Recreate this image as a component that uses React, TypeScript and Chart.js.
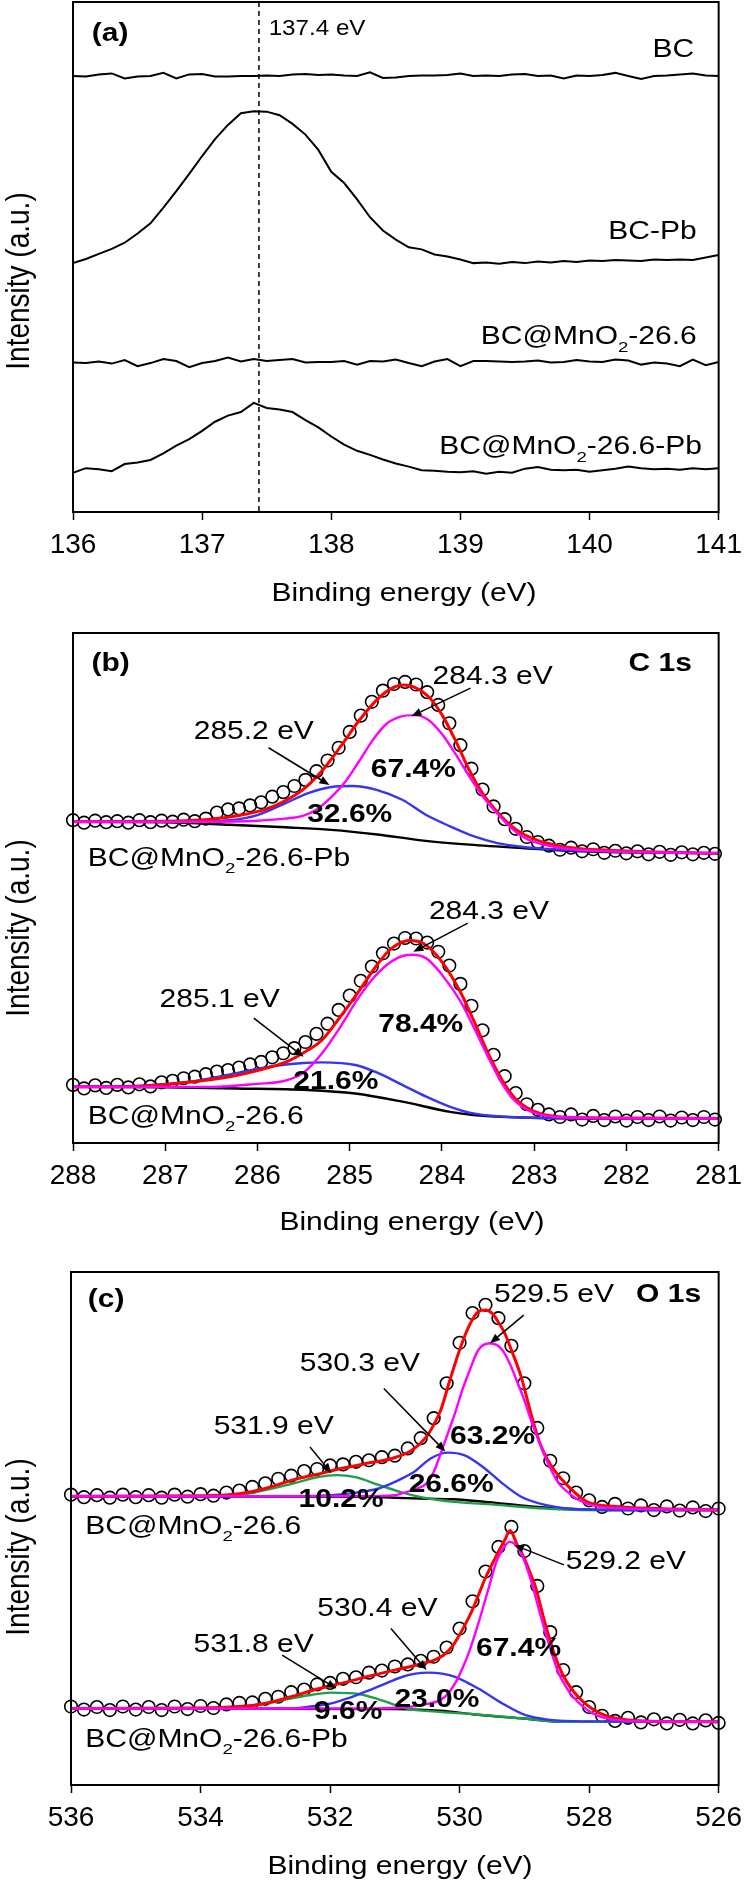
import React, { useEffect, useRef } from "react";
import { Chart, registerables } from "chart.js";
Chart.register(...registerables);

const FONT = '"Liberation Sans", Arial, Helvetica, sans-serif';

// ---------------- Panel (a): Pb 4f region ----------------
const energyA = [136.0, 136.1, 136.2, 136.3, 136.4, 136.5, 136.6, 136.7, 136.8, 136.9, 137.0, 137.1, 137.2, 137.3, 137.4, 137.5, 137.6, 137.7, 137.8, 137.9, 138.0, 138.1, 138.2, 138.3, 138.4, 138.5, 138.6, 138.7, 138.8, 138.9, 139.0, 139.1, 139.2, 139.3, 139.4, 139.5, 139.6, 139.7, 139.8, 139.9, 140.0, 140.1, 140.2, 140.3, 140.4, 140.5, 140.6, 140.7, 140.8, 140.9, 141.0];
const bcA = [85.5, 85.4, 85.8, 86.0, 85.0, 85.4, 85.5, 86.1, 85.0, 85.8, 85.9, 85.4, 85.4, 85.5, 85.5, 85.6, 85.5, 85.8, 85.9, 85.7, 85.8, 85.6, 85.5, 86.2, 85.1, 85.2, 85.5, 85.6, 85.6, 85.7, 86.0, 85.5, 85.6, 85.5, 85.8, 85.9, 85.5, 85.6, 85.0, 85.6, 85.5, 85.7, 86.1, 85.5, 84.9, 85.5, 85.6, 85.8, 86.0, 85.6, 85.5];
const bcPbA = [48.8, 49.6, 50.6, 51.6, 52.8, 54.6, 56.6, 59.7, 62.9, 66.3, 69.8, 73.1, 75.9, 78.2, 78.6, 78.5, 77.8, 76.1, 74.0, 71.0, 66.7, 64.5, 61.3, 57.8, 55.2, 53.4, 51.9, 51.5, 50.5, 50.1, 49.5, 48.8, 48.9, 48.7, 49.0, 48.8, 49.1, 48.9, 49.2, 49.0, 49.3, 49.2, 49.4, 49.3, 49.2, 49.5, 49.4, 49.5, 49.4, 49.9, 50.4];
const mnA = [29.3, 29.2, 29.5, 29.1, 29.8, 28.6, 29.2, 30.0, 29.6, 28.4, 29.2, 29.6, 30.3, 29.5, 30.0, 29.6, 29.8, 30.0, 29.3, 29.4, 29.4, 29.6, 28.9, 29.6, 29.5, 29.9, 29.2, 28.6, 29.5, 30.0, 28.6, 29.6, 29.6, 29.5, 29.4, 29.5, 29.7, 29.3, 29.4, 29.8, 29.5, 29.4, 29.9, 29.7, 28.9, 29.3, 29.1, 28.6, 29.9, 28.8, 29.4];
const mnPbA = [7.7, 8.6, 8.4, 8.0, 9.4, 9.7, 10.2, 11.5, 13.0, 14.3, 15.9, 17.7, 18.9, 19.6, 21.4, 20.4, 20.1, 19.6, 18.0, 16.6, 14.8, 13.2, 12.0, 11.2, 10.3, 9.5, 8.9, 8.2, 8.1, 7.9, 7.8, 8.0, 7.5, 7.9, 7.7, 8.5, 8.8, 8.3, 8.2, 8.3, 7.9, 8.2, 8.5, 8.9, 8.6, 8.4, 8.5, 8.3, 8.6, 8.4, 8.6];
const peakLineA = 137.44;

// ---------------- Panel (b): C 1s ----------------
const energyB = [288.0, 287.88, 287.76, 287.64, 287.52, 287.4, 287.28, 287.16, 287.04, 286.92, 286.8, 286.68, 286.56, 286.44, 286.32, 286.2, 286.08, 285.96, 285.84, 285.72, 285.6, 285.48, 285.36, 285.24, 285.12, 285.0, 284.88, 284.76, 284.64, 284.52, 284.4, 284.28, 284.16, 284.04, 283.92, 283.8, 283.68, 283.56, 283.44, 283.32, 283.2, 283.08, 282.96, 282.84, 282.72, 282.6, 282.48, 282.36, 282.24, 282.12, 282.0, 281.88, 281.76, 281.64, 281.52, 281.4, 281.28, 281.16, 281.04];
const rawB_Pb = [63.3, 62.8, 63.2, 62.9, 63.1, 62.8, 63.3, 62.9, 63.2, 63.0, 63.4, 63.1, 63.6, 64.8, 65.4, 65.6, 66.2, 66.8, 67.9, 68.8, 70.0, 71.2, 72.9, 75.0, 77.5, 80.6, 83.8, 86.5, 88.7, 90.0, 90.4, 89.9, 88.4, 85.9, 82.3, 78.0, 73.4, 69.3, 66.0, 63.5, 61.6, 60.0, 59.0, 58.3, 57.5, 57.9, 57.2, 57.6, 56.9, 57.3, 56.8, 57.2, 56.6, 57.1, 56.5, 57.0, 56.6, 56.9, 56.7];
const rawB_Mn = [11.4, 10.7, 11.3, 10.8, 11.4, 10.9, 11.5, 11.1, 11.9, 12.2, 12.7, 13.0, 13.5, 14.0, 14.3, 14.8, 15.4, 15.9, 16.8, 17.6, 18.6, 19.8, 21.4, 23.4, 26.1, 28.9, 31.8, 34.6, 37.2, 39.1, 40.2, 40.1, 39.3, 37.5, 34.8, 31.2, 26.9, 22.1, 17.3, 13.1, 9.8, 7.6, 6.5, 5.6, 5.1, 5.6, 4.6, 5.3, 4.5, 5.2, 4.4, 5.1, 4.5, 5.2, 4.4, 5.0, 4.5, 5.1, 4.6];
// fitted curves [binding energy, intensity]
const envB_Pb = [[288.0, 63.0], [287.0, 63.1], [286.5, 63.5], [286.2, 64.2], [285.9, 65.5], [285.7, 67.1], [285.5, 69.4], [285.3, 73.0], [285.1, 77.7], [284.9, 82.8], [284.7, 87.0], [284.55, 89.1], [284.42, 89.8], [284.3, 89.4], [284.15, 87.6], [284.0, 84.0], [283.85, 78.8], [283.7, 73.0], [283.55, 68.3], [283.4, 64.9], [283.25, 62.2], [283.1, 60.4], [282.9, 59.0], [282.6, 57.9], [282.2, 57.4], [281.6, 57.0], [281.0, 56.8]];
const ccB_Pb = [[288.0, 63.0], [286.5, 63.0], [286.0, 63.2], [285.7, 63.6], [285.5, 64.2], [285.35, 65.5], [285.2, 67.8], [285.05, 70.8], [284.9, 74.8], [284.75, 79.0], [284.6, 82.2], [284.45, 83.6], [284.3, 83.9], [284.15, 83.0], [284.0, 80.2], [283.85, 76.2], [283.7, 71.8], [283.55, 67.8], [283.4, 64.6], [283.25, 61.8], [283.1, 59.8], [282.9, 58.5], [282.6, 57.6], [282.0, 57.1], [281.0, 56.8]];
const coB_Pb = [[288.0, 63.0], [286.8, 63.0], [286.3, 63.3], [286.0, 64.3], [285.7, 66.6], [285.45, 68.6], [285.2, 69.8], [284.97, 70.0], [284.7, 69.2], [284.43, 67.3], [284.17, 64.3], [283.9, 62.0], [283.65, 60.1], [283.4, 58.8], [283.14, 58.1], [282.8, 57.6], [282.0, 57.1], [281.0, 56.8]];
const bgB_Pb = [[288.0, 63.0], [287.0, 62.9], [286.3, 62.4], [285.7, 61.9], [285.2, 61.4], [284.7, 60.5], [284.2, 59.3], [283.7, 58.5], [283.1, 57.8], [282.5, 57.2], [281.0, 56.8]];
const envB_Mn = [[288.0, 11.0], [287.2, 11.2], [286.7, 12.0], [286.3, 13.0], [286.0, 14.2], [285.7, 15.8], [285.5, 17.7], [285.3, 20.2], [285.1, 24.8], [284.9, 29.8], [284.7, 35.0], [284.55, 38.1], [284.35, 39.7], [284.2, 39.1], [284.0, 35.5], [283.8, 29.6], [283.65, 23.8], [283.5, 17.6], [283.35, 12.4], [283.2, 8.6], [283.0, 6.2], [282.7, 5.1], [282.0, 4.9], [281.0, 4.8]];
const ccB_Mn = [[288.0, 11.0], [286.5, 11.0], [286.0, 11.6], [285.7, 12.2], [285.5, 13.8], [285.3, 17.6], [285.1, 22.8], [284.9, 28.6], [284.7, 33.2], [284.5, 36.1], [284.33, 36.9], [284.17, 36.2], [284.0, 33.0], [283.8, 27.8], [283.65, 22.5], [283.5, 16.9], [283.35, 11.7], [283.2, 8.1], [283.0, 5.9], [282.6, 5.0], [281.0, 4.8]];
const coB_Mn = [[288.0, 11.0], [287.3, 11.2], [286.74, 12.0], [286.23, 13.7], [285.82, 15.1], [285.5, 15.7], [285.3, 15.8], [284.94, 15.3], [284.69, 13.7], [284.43, 11.4], [284.17, 9.1], [283.91, 7.1], [283.66, 5.8], [283.14, 5.0], [282.0, 4.8], [281.0, 4.8]];
const bgB_Mn = [[288.0, 11.0], [287.0, 10.9], [286.23, 10.7], [285.46, 10.4], [284.94, 9.7], [284.43, 8.1], [283.91, 6.1], [283.66, 5.5], [283.14, 5.0], [282.0, 4.8], [281.0, 4.8]];

// ---------------- Panel (c): O 1s ----------------
const energyC = [536.0, 535.8, 535.6, 535.4, 535.2, 535.0, 534.8, 534.6, 534.4, 534.2, 534.0, 533.8, 533.6, 533.4, 533.2, 533.0, 532.8, 532.6, 532.4, 532.2, 532.0, 531.8, 531.6, 531.4, 531.2, 531.0, 530.8, 530.6, 530.4, 530.2, 530.0, 529.8, 529.6, 529.4, 529.2, 529.0, 528.8, 528.6, 528.4, 528.2, 528.0, 527.8, 527.6, 527.4, 527.2, 527.0, 526.8, 526.6, 526.4, 526.2, 526.0];
const rawC_Mn = [56.6, 56.1, 56.5, 56.0, 56.6, 56.1, 56.5, 56.0, 56.6, 56.2, 56.7, 56.4, 57.0, 57.4, 58.1, 58.8, 59.7, 60.3, 61.2, 61.6, 62.3, 62.5, 63.0, 63.3, 63.9, 64.2, 65.6, 67.6, 71.5, 78.3, 86.2, 92.0, 93.6, 91.0, 85.6, 78.3, 69.6, 63.2, 59.8, 57.0, 55.5, 54.2, 54.8, 53.9, 54.5, 53.6, 54.3, 53.5, 54.1, 53.4, 53.9];
const rawC_Pb = [15.3, 14.7, 15.2, 14.6, 15.3, 14.7, 15.2, 14.6, 15.3, 14.8, 15.4, 15.0, 15.7, 16.0, 16.1, 16.8, 17.2, 18.1, 18.6, 19.6, 19.9, 20.7, 21.0, 21.9, 22.3, 23.1, 23.5, 24.2, 25.0, 26.8, 30.5, 35.8, 41.6, 46.4, 50.3, 45.6, 38.8, 29.8, 22.4, 18.1, 15.2, 13.5, 12.5, 13.1, 12.2, 12.8, 12.0, 12.7, 12.0, 12.6, 12.1];
const envC_Mn = [[536.0, 56.3], [534.0, 56.4], [533.4, 56.8], [533.0, 57.8], [532.56, 59.5], [532.12, 60.8], [531.83, 61.7], [531.39, 62.8], [531.03, 63.7], [530.73, 65.3], [530.51, 67.9], [530.4, 70.2], [530.29, 73.1], [530.15, 78.9], [530.0, 84.8], [529.86, 89.3], [529.71, 92.3], [529.6, 92.6], [529.5, 92.0], [529.42, 90.6], [529.3, 88.0], [529.2, 84.8], [529.05, 79.6], [528.9, 72.5], [528.76, 66.6], [528.65, 63.6], [528.54, 61.4], [528.32, 58.2], [528.03, 55.2], [527.59, 54.3], [527.0, 53.9], [526.0, 53.6]];
const latC_Mn = [[536.0, 56.3], [531.5, 56.3], [531.0, 56.5], [530.88, 56.9], [530.7, 57.6], [530.51, 58.8], [530.4, 61.0], [530.29, 64.7], [530.18, 68.6], [530.07, 72.5], [529.96, 76.9], [529.86, 80.3], [529.71, 84.8], [529.53, 86.1], [529.34, 84.8], [529.22, 82.0], [529.12, 78.9], [529.0, 75.0], [528.9, 71.2], [528.78, 67.2], [528.68, 64.0], [528.57, 61.0], [528.47, 58.8], [528.3, 56.8], [528.17, 55.6], [527.88, 54.3], [527.4, 53.9], [526.0, 53.6]];
const ohC_Mn = [[536.0, 56.3], [532.5, 56.3], [531.98, 56.5], [531.6, 57.0], [531.25, 57.8], [531.0, 59.1], [530.73, 60.8], [530.44, 63.7], [530.18, 64.8], [529.93, 64.3], [529.64, 62.0], [529.34, 58.8], [529.05, 56.2], [528.68, 54.6], [528.32, 53.9], [527.5, 53.6], [526.0, 53.6]];
const h2oC_Mn = [[536.0, 56.3], [534.0, 56.3], [533.44, 56.5], [533.0, 57.5], [532.56, 58.8], [532.2, 60.0], [531.9, 60.4], [531.61, 60.0], [531.25, 58.5], [530.88, 57.0], [530.51, 55.9], [530.07, 55.2], [529.42, 54.6], [528.68, 53.9], [527.95, 53.6], [526.0, 53.6]];
const bgC_Mn = [[536.0, 56.3], [531.5, 56.2], [531.0, 56.0], [530.5, 55.8], [530.1, 55.7], [529.6, 55.2], [528.9, 54.3], [528.3, 53.8], [527.5, 53.6], [526.0, 53.6]];
const envC_Pb = [[536.0, 14.9], [534.0, 15.0], [533.4, 15.3], [533.0, 15.9], [532.6, 17.2], [532.2, 18.7], [531.8, 19.9], [531.4, 21.2], [531.0, 22.4], [530.6, 23.6], [530.4, 24.3], [530.25, 25.3], [530.1, 27.2], [530.0, 29.3], [529.9, 31.6], [529.8, 34.2], [529.7, 37.3], [529.6, 40.4], [529.5, 43.0], [529.4, 45.5], [529.3, 47.8], [529.22, 49.6], [529.12, 47.1], [529.0, 44.2], [528.9, 41.0], [528.83, 38.7], [528.68, 31.5], [528.54, 25.7], [528.39, 21.1], [528.17, 17.2], [527.88, 14.3], [527.59, 13.0], [527.0, 12.4], [526.0, 12.3]];
const latC_Pb = [[536.0, 14.9], [531.5, 14.9], [530.73, 15.3], [530.5, 15.8], [530.29, 16.6], [530.18, 17.8], [530.07, 19.8], [529.96, 22.6], [529.86, 25.7], [529.71, 31.5], [529.56, 38.0], [529.42, 43.9], [529.3, 46.6], [529.23, 47.4], [529.15, 47.0], [529.05, 45.2], [528.9, 40.0], [528.76, 33.5], [528.61, 27.0], [528.47, 21.8], [528.35, 19.0], [528.25, 17.2], [527.95, 14.0], [527.59, 12.7], [527.0, 12.4], [526.0, 12.3]];
const ohC_Pb = [[536.0, 14.9], [532.6, 14.9], [532.3, 15.3], [531.98, 15.9], [531.7, 17.0], [531.39, 18.5], [531.1, 20.0], [530.88, 21.1], [530.68, 21.7], [530.48, 21.9], [530.27, 21.7], [530.07, 21.1], [529.71, 18.8], [529.34, 15.9], [528.98, 13.6], [528.61, 12.7], [528.0, 12.4], [526.0, 12.3]];
const h2oC_Pb = [[536.0, 14.9], [534.0, 14.9], [533.44, 15.1], [533.0, 15.9], [532.42, 17.3], [531.98, 18.0], [531.54, 17.7], [531.25, 16.7], [530.81, 14.9], [530.37, 14.3], [529.78, 13.8], [529.05, 13.0], [528.32, 12.3], [526.0, 12.3]];
const bgC_Pb = [[536.0, 14.9], [531.0, 14.8], [530.3, 14.5], [529.8, 13.8], [529.05, 13.0], [528.32, 12.3], [526.0, 12.3]];

// ---------------- drawing helpers ----------------
type Seg = { t: string; sub?: boolean };
type Label = { text: string; x: number; y: number; align: "left" | "right" | "center"; bold?: boolean; size?: number; sx?: number };
type Arrow = [number, number, number, number];

function parseSegs(s: string): Seg[] {
  const out: Seg[] = [];
  let buf = "";
  for (let i = 0; i < s.length; i++) {
    if (s[i] === "_" && i + 1 < s.length) {
      if (buf) out.push({ t: buf });
      buf = "";
      out.push({ t: s[i + 1], sub: true });
      i++;
    } else buf += s[i];
  }
  if (buf) out.push({ t: buf });
  return out;
}
const fontStr = (size: number, bold?: boolean) => `${bold ? "bold " : ""}${size}px ${FONT}`;

function drawRich(ctx: CanvasRenderingContext2D, text: string, x: number, y: number, align: string, size: number, bold: boolean, sx: number) {
  const segs = parseSegs(text);
  const sz = (s: Seg) => (s.sub ? size * 0.62 : size);
  const widths = segs.map((s) => {
    ctx.font = fontStr(sz(s), bold);
    return ctx.measureText(s.t).width;
  });
  const total = widths.reduce((a, b) => a + b, 0);
  ctx.save();
  ctx.translate(x, y);
  ctx.scale(sx, 1);
  let cx = align === "left" ? 0 : align === "right" ? -total : -total / 2;
  ctx.textAlign = "left";
  ctx.textBaseline = "alphabetic";
  ctx.fillStyle = "#000";
  segs.forEach((s, i) => {
    ctx.font = fontStr(sz(s), bold);
    ctx.fillText(s.t, cx, size * 0.36 + (s.sub ? size * 0.3 : 0));
    cx += widths[i];
  });
  ctx.restore();
}

function drawArrow(ctx: CanvasRenderingContext2D, x1: number, y1: number, x2: number, y2: number) {
  const ang = Math.atan2(y2 - y1, x2 - x1);
  const L = 10, W = 4;
  const bx = x2 - L * Math.cos(ang), by = y2 - L * Math.sin(ang);
  ctx.strokeStyle = "#000";
  ctx.lineWidth = 1.5;
  ctx.beginPath();
  ctx.moveTo(x1, y1);
  ctx.lineTo(bx, by);
  ctx.stroke();
  ctx.beginPath();
  ctx.moveTo(x2, y2);
  ctx.lineTo(bx - W * Math.sin(ang), by + W * Math.cos(ang));
  ctx.lineTo(bx + W * Math.sin(ang), by - W * Math.cos(ang));
  ctx.closePath();
  ctx.fillStyle = "#000";
  ctx.fill();
}

type Decor = { labels: Label[]; arrows: Arrow[]; vline?: number; xTitle: [number, number]; yTitle: [number, number] };

function makeDecor(d: Decor) {
  return {
    id: "decor",
    afterDraw(chart: any) {
      const { ctx, chartArea: a, scales } = chart;
      const X = (v: number) => scales.x.getPixelForValue(v);
      const Y = (v: number) => scales.y.getPixelForValue(v);
      ctx.save();
      if (d.vline !== undefined) {
        ctx.strokeStyle = "#000";
        ctx.lineWidth = 1.5;
        ctx.setLineDash([5, 4]);
        ctx.beginPath();
        ctx.moveTo(X(d.vline), a.top);
        ctx.lineTo(X(d.vline), a.bottom);
        ctx.stroke();
        ctx.setLineDash([]);
      }
      d.arrows.forEach(([e1, i1, e2, i2]) => drawArrow(ctx, X(e1), Y(i1), X(e2), Y(i2)));
      d.labels.forEach((l) => drawRich(ctx, l.text, X(l.x), Y(l.y), l.align, l.size ?? 25, !!l.bold, l.sx ?? 1.2));
      ctx.strokeStyle = "#000";
      ctx.lineWidth = 2;
      ctx.strokeRect(a.left, a.top, a.right - a.left, a.bottom - a.top);
      drawRich(ctx, "Binding energy (eV)", d.xTitle[0], d.xTitle[1], "center", 25, false, 1.2);
      ctx.save();
      ctx.translate(d.yTitle[0], d.yTitle[1]);
      ctx.scale(1.2, 1);
      ctx.rotate(-Math.PI / 2);
      ctx.font = fontStr(28, false);
      ctx.textAlign = "center";
      ctx.textBaseline = "alphabetic";
      ctx.fillStyle = "#000";
      ctx.fillText("Intensity (a.u.)", 0, 28 * 0.36);
      ctx.restore();
      ctx.restore();
    },
  };
}

const pairs = (pts: number[][]) => pts.map(([x, y]) => ({ x, y }));
const zip = (xs: number[], ys: number[]) => xs.map((x, i) => ({ x, y: ys[i] }));
const fit = (pts: number[][], color: string, width = 2.4) => ({
  data: pairs(pts),
  borderColor: color,
  borderWidth: width,
  pointRadius: 0,
  fill: false,
  cubicInterpolationMode: "monotone",
});
const raw = (xs: number[], ys: number[]) => ({
  data: zip(xs, ys),
  showLine: false,
  pointRadius: 6.3,
  pointBorderWidth: 1.6,
  pointBorderColor: "#000",
  pointBackgroundColor: "rgba(0,0,0,0)",
  clip: false,
});
const trace = (xs: number[], ys: number[]) => ({
  data: zip(xs, ys),
  borderColor: "#000",
  borderWidth: 2,
  pointRadius: 0,
  tension: 0,
  fill: false,
});

const RED = "#ff0000", MAG = "#ff00ff", BLUE = "#3535f2", GREEN = "#1f9e4a", BLACK = "#000000";

type Panel = {
  top: number; height: number; left: number; right: number; padTop: number; axisH: number;
  min: number; max: number; reverse: boolean; step: number; datasets: any[]; decor: Decor;
};

const panels: Panel[] = [
  {
    top: 0, height: 620, left: 73, right: 27, padTop: 2, axisH: 108,
    min: 136, max: 141, reverse: false, step: 1,
    datasets: [trace(energyA, bcA), trace(energyA, bcPbA), trace(energyA, mnA), trace(energyA, mnPbA)],
    decor: {
      vline: peakLineA,
      arrows: [],
      labels: [
        { text: "(a)", x: 136.146, y: 94.1, align: "left", bold: true },
        { text: "137.4 eV", x: 137.515, y: 95.1, align: "left", size: 22, sx: 1.1 },
        { text: "BC", x: 140.81, y: 91.0, align: "right" },
        { text: "BC-Pb", x: 140.83, y: 55.3, align: "right" },
        { text: "BC@MnO_2-26.6", x: 140.83, y: 34.7, align: "right" },
        { text: "BC@MnO_2-26.6-Pb", x: 140.87, y: 13.1, align: "right" },
      ],
      xTitle: [404, 592],
      yTitle: [17, 281],
    },
  },
  {
    top: 620, height: 630, left: 73, right: 25, padTop: 13, axisH: 107,
    min: 281, max: 288, reverse: true, step: 1,
    datasets: [
      fit(ccB_Pb, MAG), fit(envB_Pb, RED, 3), fit(coB_Pb, BLUE), fit(bgB_Pb, BLACK),
      fit(ccB_Mn, MAG), fit(envB_Mn, RED, 3), fit(coB_Mn, BLUE), fit(bgB_Mn, BLACK),
      raw(energyB, rawB_Pb), raw(energyB, rawB_Mn),
    ],
    decor: {
      arrows: [
        [283.69, 89.2, 284.33, 83.7],
        [285.88, 77.5, 285.22, 70.2],
        [283.72, 43.1, 284.31, 37.5],
        [286.04, 24.5, 285.5, 16.9],
      ],
      labels: [
        { text: "(b)", x: 287.8, y: 94.3, align: "left", bold: true },
        { text: "C 1s", x: 281.29, y: 94.3, align: "right", bold: true },
        { text: "284.3 eV", x: 283.45, y: 91.8, align: "center" },
        { text: "285.2 eV", x: 286.04, y: 81.0, align: "center" },
        { text: "67.4%", x: 284.31, y: 73.5, align: "center", bold: true },
        { text: "32.6%", x: 285.0, y: 64.7, align: "center", bold: true },
        { text: "BC@MnO_2-26.6-Pb", x: 287.84, y: 56.1, align: "left" },
        { text: "284.3 eV", x: 283.49, y: 45.7, align: "center" },
        { text: "285.1 eV", x: 286.41, y: 28.4, align: "center" },
        { text: "78.4%", x: 284.23, y: 23.5, align: "center", bold: true },
        { text: "21.6%", x: 285.15, y: 12.4, align: "center", bold: true },
        { text: "BC@MnO_2-26.6", x: 287.84, y: 5.5, align: "left" },
      ],
      xTitle: [412, 601],
      yTitle: [17, 308],
    },
  },
  {
    top: 1250, height: 633, left: 71, right: 28, padTop: 22, axisH: 98,
    min: 526, max: 536, reverse: true, step: 2,
    datasets: [
      fit(latC_Mn, MAG), fit(envC_Mn, RED, 3), fit(ohC_Mn, BLUE), fit(h2oC_Mn, GREEN), fit(bgC_Mn, BLACK),
      fit(latC_Pb, MAG), fit(envC_Pb, RED, 3), fit(ohC_Pb, BLUE), fit(h2oC_Pb, GREEN), fit(bgC_Pb, BLACK),
      raw(energyC, rawC_Mn), raw(energyC, rawC_Pb),
    ],
    decor: {
      arrows: [
        [529.01, 91.6, 529.53, 86.1],
        [531.17, 77.3, 530.22, 65.0],
        [532.31, 65.9, 531.98, 60.8],
        [528.39, 42.9, 529.16, 46.8],
        [531.06, 30.5, 530.51, 22.4],
        [532.74, 25.3, 531.9, 18.8],
      ],
      labels: [
        { text: "(c)", x: 535.74, y: 94.9, align: "left", bold: true },
        { text: "529.5 eV", x: 529.47, y: 95.9, align: "left" },
        { text: "O 1s", x: 526.27, y: 95.9, align: "right", bold: true },
        { text: "530.3 eV", x: 531.54, y: 82.5, align: "center" },
        { text: "531.9 eV", x: 532.87, y: 70.2, align: "center" },
        { text: "63.2%", x: 529.49, y: 68.2, align: "center", bold: true },
        { text: "26.6%", x: 530.13, y: 58.9, align: "center", bold: true },
        { text: "10.2%", x: 531.83, y: 55.9, align: "center", bold: true },
        { text: "BC@MnO_2-26.6", x: 535.78, y: 50.7, align: "left" },
        { text: "529.2 eV", x: 528.36, y: 43.9, align: "left" },
        { text: "530.4 eV", x: 531.27, y: 34.7, align: "center" },
        { text: "531.8 eV", x: 533.18, y: 27.7, align: "center" },
        { text: "67.4%", x: 529.09, y: 26.9, align: "center", bold: true },
        { text: "23.0%", x: 530.35, y: 17.0, align: "center", bold: true },
        { text: "9.6%", x: 531.72, y: 14.6, align: "center", bold: true },
        { text: "BC@MnO_2-26.6-Pb", x: 535.78, y: 9.2, align: "left" },
      ],
      xTitle: [400, 615],
      yTitle: [17, 297],
    },
  },
];

function buildConfig(p: Panel): any {
  return {
    type: "line",
    data: { datasets: p.datasets },
    options: {
      animation: false,
      responsive: false,
      maintainAspectRatio: false,
      layout: { padding: { left: p.left, right: p.right, top: p.padTop, bottom: 0 } },
      plugins: { legend: { display: false }, tooltip: { enabled: false }, title: { display: false } },
      events: [],
      scales: {
        x: {
          type: "linear",
          min: p.min,
          max: p.max,
          reverse: p.reverse,
          afterFit: (s: any) => {
            s.height = p.axisH;
          },
          ticks: { stepSize: p.step, color: "#000", font: { family: FONT, size: 28 }, padding: 8, maxRotation: 0, autoSkip: false },
          grid: { display: true, drawOnChartArea: false, drawTicks: true, tickLength: 8, tickColor: "#000", tickWidth: 1.5 },
          border: { display: false },
        },
        y: { type: "linear", display: false, min: 0, max: 100 },
      },
    },
    plugins: [makeDecor(p.decor)],
  };
}

export default function App() {
  const refs = [useRef<HTMLCanvasElement>(null), useRef<HTMLCanvasElement>(null), useRef<HTMLCanvasElement>(null)];
  useEffect(() => {
    const charts = panels.map((p, i) => new Chart(refs[i].current as HTMLCanvasElement, buildConfig(p)));
    return () => charts.forEach((c) => c.destroy());
  }, []);
  return (
    <div style={{ position: "absolute", left: 0, top: 0, width: 750, height: 1883, background: "#fff" }}>
      {panels.map((p, i) => (
        <canvas
          key={i}
          ref={refs[i]}
          width={750}
          height={p.height}
          style={{ position: "absolute", left: 0, top: p.top, width: 750, height: p.height }}
        />
      ))}
    </div>
  );
}
